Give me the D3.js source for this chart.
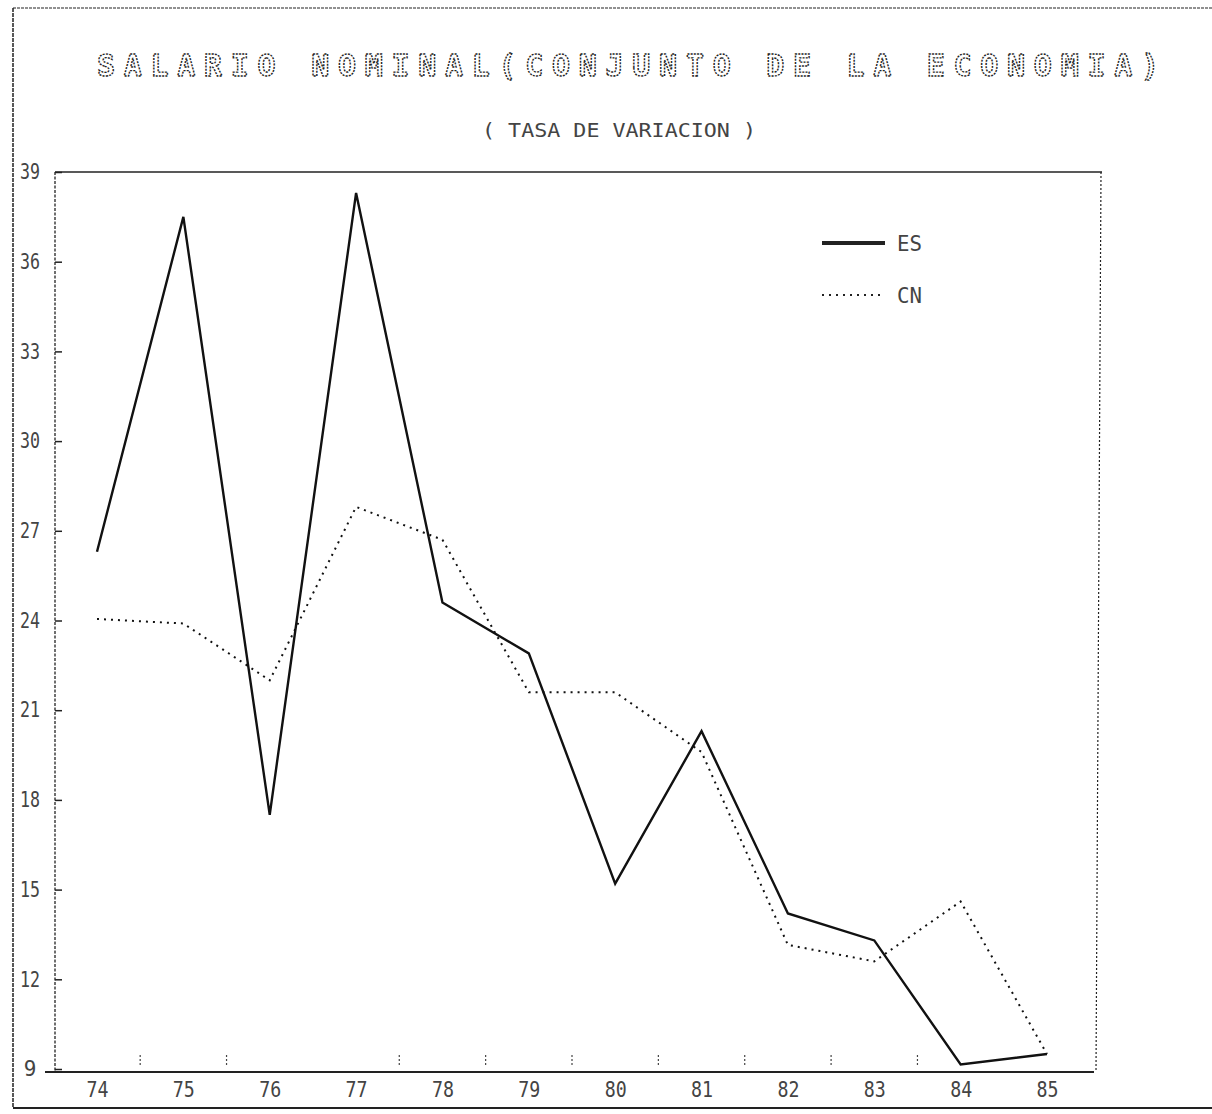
<!DOCTYPE html>
<html>
<head>
<meta charset="utf-8">
<script src="https://cdn.jsdelivr.net/npm/d3@7"></script>
<style>
  html, body { margin: 0; padding: 0; background: #fff; }
  svg { display: block; }
</style>
</head>
<body>
<script>
// ---- data ----
const years = ["74","75","76","77","78","79","80","81","82","83","84","85"];
const esValues = [26.3, 37.5, 17.5, 38.3, 24.6, 22.9, 15.2, 20.3, 14.2, 13.3, 9.15, 9.5];
const cnValues = [24.05, 23.9, 22.0, 27.8, 26.7, 21.6, 21.6, 19.6, 13.15, 12.6, 14.6, 9.5];
const yTicks = [9, 12, 15, 18, 21, 24, 27, 30, 33, 36, 39];
const yTickLabels = ["9", "12", "15", "18", "21", "24", "27", "30", "33", "36", "39"];
const midTicks = [74.5, 75.5, 77.5, 78.5, 79.5, 80.5, 81.5, 82.5, 83.5];
const seriesNames = ["ES", "CN"];
const titleText = "SALARIO NOMINAL(CONJUNTO DE LA ECONOMIA)";
const subtitleText = "( TASA DE VARIACION )";

const W = 1212, H = 1114;
const svg = d3.select("body").append("svg").attr("width", W).attr("height", H);
svg.append("rect").attr("width", W).attr("height", H).attr("fill", "#fff");

// scales
const x = d3.scaleLinear().domain([74, 85]).range([97, 1047]);
const y = d3.scaleLinear().domain([9, 39]).range([1069, 172]);

// outer border
const ink = "#222";
svg.append("line").attr("x1", 13).attr("x2", 1212).attr("y1", 8).attr("y2", 8)
  .attr("stroke", ink).attr("stroke-width", 1.2).attr("stroke-dasharray", "3,1");
svg.append("line").attr("x1", 13).attr("x2", 13).attr("y1", 8).attr("y2", 1108)
  .attr("stroke", ink).attr("stroke-width", 1.5).attr("stroke-dasharray", "4,1");
svg.append("line").attr("x1", 13).attr("x2", 1212).attr("y1", 1108).attr("y2", 1108)
  .attr("stroke", ink).attr("stroke-width", 1.8);

// title
svg.append("text").attr("x", 628).attr("y", 76).attr("text-anchor", "middle")
  .attr("font-family", "DejaVu Sans Mono, monospace").attr("font-size", 30)
  .attr("font-weight", "bold")
  .attr("textLength", 1062).attr("lengthAdjust", "spacing")
  .attr("fill", "#fff").attr("stroke", "#222").attr("stroke-width", 1.4)
  .attr("stroke-dasharray", "2,1.2")
  .text(titleText);

svg.append("text").attr("x", 619).attr("y", 137).attr("text-anchor", "middle")
  .attr("font-family", "DejaVu Sans Mono, monospace").attr("font-size", 20)
  .attr("textLength", 274).attr("lengthAdjust", "spacingAndGlyphs")
  .attr("fill", "#444")
  .text(subtitleText);

// plot frame
svg.append("line").attr("x1", 55).attr("x2", 1102).attr("y1", 172).attr("y2", 172)
  .attr("stroke", ink).attr("stroke-width", 1.5);
svg.append("line").attr("x1", 1101).attr("x2", 1096).attr("y1", 172).attr("y2", 1072)
  .attr("stroke", ink).attr("stroke-width", 1.2).attr("stroke-dasharray", "2,2");
svg.append("line").attr("x1", 55).attr("x2", 55).attr("y1", 172).attr("y2", 1072)
  .attr("stroke", ink).attr("stroke-width", 1.3).attr("stroke-dasharray", "3,1.5");
svg.append("line").attr("x1", 45).attr("x2", 1094).attr("y1", 1072).attr("y2", 1072)
  .attr("stroke", ink).attr("stroke-width", 2);

// y ticks & labels
const yAxis = d3.axisLeft(y).tickValues(yTicks).tickSize(-7)
  .tickFormat((d, i) => yTickLabels[i]);
const gy = svg.append("g").attr("transform", "translate(55,0)").call(yAxis);
gy.select(".domain").remove();
gy.selectAll(".tick line").attr("stroke", ink).attr("stroke-width", 1.5);
gy.selectAll(".tick text")
  .attr("x", -25).attr("text-anchor", "middle")
  .attr("font-family", "DejaVu Sans Mono, monospace").attr("font-size", 21)
  .attr("fill", "#444")
  .each(function(d) { if (String(d).length > 1) d3.select(this).attr("textLength", 20).attr("lengthAdjust", "spacingAndGlyphs"); });

// x labels
const xAxis = d3.axisBottom(x).tickValues(years.map(Number)).tickSize(0)
  .tickFormat((d, i) => years[i]);
const gx = svg.append("g").attr("transform", "translate(0,1072)").call(xAxis);
gx.select(".domain").remove();
gx.selectAll(".tick text")
  .attr("y", 25).attr("dy", 0)
  .attr("font-family", "DejaVu Sans Mono, monospace").attr("font-size", 21)
  .attr("fill", "#444").attr("textLength", 22).attr("lengthAdjust", "spacingAndGlyphs");

// mid ticks above axis
svg.selectAll("line.mid").data(midTicks).enter().append("line")
  .attr("x1", d => x(d)).attr("x2", d => x(d))
  .attr("y1", 1055).attr("y2", 1066)
  .attr("stroke", "#444").attr("stroke-width", 1.2).attr("stroke-dasharray", "2,2");

// lines
const line = d3.line().x((d, i) => x(+years[i])).y(d => y(d));
svg.append("path").datum(cnValues).attr("d", line)
  .attr("fill", "none").attr("stroke", "#111").attr("stroke-width", 2)
  .attr("stroke-dasharray", "2,5");
svg.append("path").datum(esValues).attr("d", line)
  .attr("fill", "none").attr("stroke", "#111").attr("stroke-width", 2.4);

// legend
const leg = [
  { name: seriesNames[0], y: 243, dash: null, w: 4 },
  { name: seriesNames[1], y: 295, dash: "2,5", w: 2 }
];
leg.forEach(l => {
  svg.append("line").attr("x1", 822).attr("x2", 885).attr("y1", l.y).attr("y2", l.y)
    .attr("stroke", "#222").attr("stroke-width", l.w)
    .attr("stroke-dasharray", l.dash);
  svg.append("text").attr("x", 897).attr("y", l.y + 8)
    .attr("font-family", "DejaVu Sans Mono, monospace").attr("font-size", 21)
    .attr("fill", "#444").attr("textLength", 25).attr("lengthAdjust", "spacingAndGlyphs")
    .text(l.name);
});
</script>
</body>
</html>
